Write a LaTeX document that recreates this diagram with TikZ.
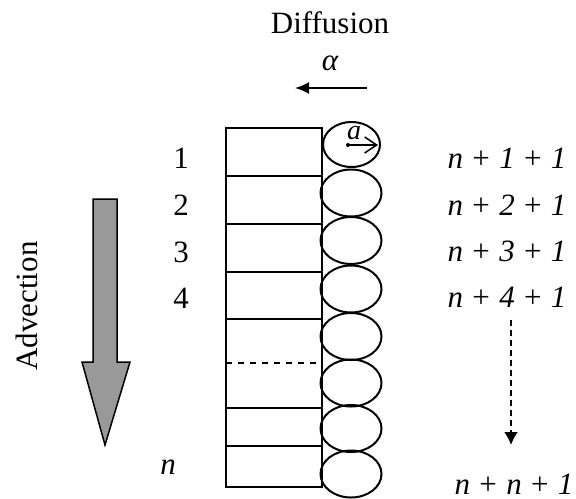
\documentclass[tikz,border=0pt]{standalone}
\usepackage{fontspec}
\setmainfont{Liberation Serif}
\usetikzlibrary{arrows.meta}
\definecolor{shaftgray}{RGB}{153,153,153}
\newcommand{\cellidx}[2]{\itshape #1\hspace{.3em}\upshape+\hspace{.3em}\itshape #2\hspace{.3em}\upshape+\hspace{.3em}\itshape 1}

\begin{document}
\begin{tikzpicture}[x=0.5pt, y=-0.5pt, line width=1pt,
    every node/.style={font=\fontsize{15.5}{18}\selectfont, inner sep=0pt},
    smalltext/.style={font=\fontsize{14}{16}\selectfont}]
  \useasboundingbox (0,0) rectangle (576,498);
  % diffusion heading
  \node (diff) at (330,23) {Diffusion};
  \node (alpha) at (330,63) {\itshape α};
  \coordinate (diffstart) at (367,88);
  \coordinate (diffend) at (295,88);
  \draw[-{Latex[length=7pt,width=6pt]}] (diffstart) -- (diffend);
  % advection
  \node[rotate=90] (adv) at (27,306) {Advection};
  \draw[fill=shaftgray, line width=0.75pt] (93,199) -- (117,199) -- (117,362) -- (130,362)
    -- (105,445) -- (82,362) -- (93,362) -- cycle;
  % cells
  \draw (226,128) rectangle (322,487);
  \foreach \y in {176,224,272,319,408,446}
    \draw (226,\y) -- (322,\y);
  \draw[dashed] (226,363) -- (318,363);
  % particles
  \draw (351.5,144.5) ellipse [x radius=28.5, y radius=22.5];
  \foreach \y in {193,240.5,289,336.5,383,428.5,474}
    \draw (351,\y) ellipse [x radius=30.5, y radius=23.5];
  \coordinate (rad0) at (348,145);
  \coordinate (rad1) at (378,145);
  \fill (rad0) circle [radius=2];
  \draw[line width=0.75pt, -{Straight Barb[length=6pt,width=8pt]}] (rad0) -- (rad1);
  \node[smalltext] (rada) at (354,133) {\itshape a};
  % row numbers
  \foreach \i/\y in {1/158,2/205,3/252,4/298}
    \node (row\i) at (181,\y) {\i};
  \node (rown) at (168,467) {\itshape n};
  % particle indices
  \foreach \i/\y in {1/158,2/205,3/251,4/297}
    \node (idx\i) at (507,\y) {\cellidx{n}{\i}};
  \node (idxn) at (514,484) {\cellidx{n}{n}};
  \coordinate (dotstart) at (511,320);
  \coordinate (dotend) at (511,445);
  \draw[dash pattern=on 3pt off 2pt, -{Latex[length=6.5pt,width=7pt]}] (dotstart) -- (dotend);
\end{tikzpicture}
\end{document}
